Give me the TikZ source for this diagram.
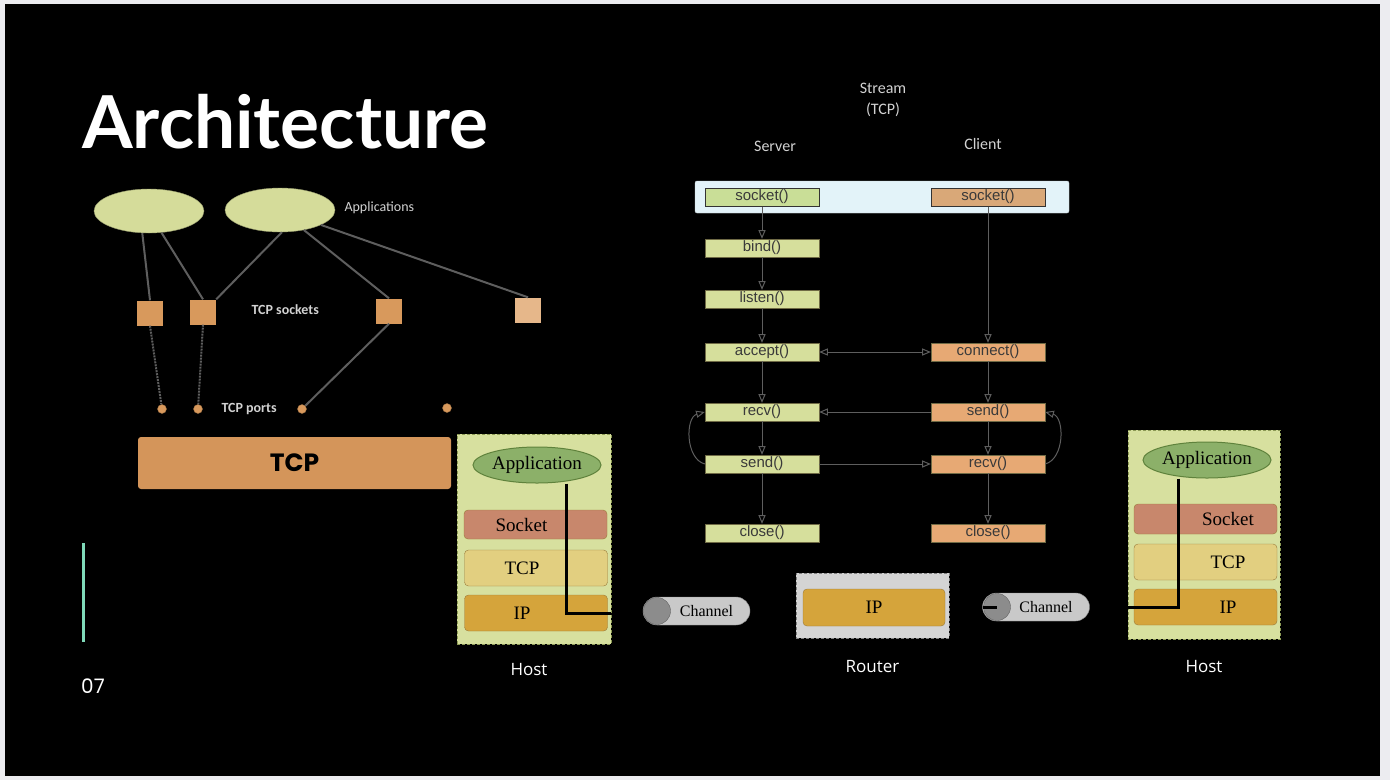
\documentclass[tikz,border=0pt]{standalone}
\usepackage{fontspec}
\setmainfont{Liberation Sans}
\newfontfamily\titlefont{Lato}
\newfontfamily\roundfont{Poppins}
\newfontfamily\labelfont{Carlito}
\newfontfamily\serifont{Liberation Serif}
\newfontfamily\capfont{Open Sans}
\usepackage{xcolor}
\usepackage{tikz}
\usetikzlibrary{arrows,shapes,positioning}

\definecolor{pagegray}{HTML}{ECECF0}
\definecolor{appfill}{HTML}{D5DC9A}
\definecolor{sockfill}{HTML}{D8995C}
\definecolor{sockpale}{HTML}{E6B78A}
\definecolor{linkgray}{HTML}{5E5E5E}
\definecolor{labelgray}{HTML}{D2D2D2}
\definecolor{tcpfill}{HTML}{D4955A}
\definecolor{srvfill}{HTML}{D6DF9C}
\definecolor{srvtop}{HTML}{C9DE97}
\definecolor{clifill}{HTML}{E7A974}
\definecolor{clitop}{HTML}{D9A878}
\definecolor{callrim}{HTML}{6F6A45}
\definecolor{calltext}{HTML}{3A3A3A}
\definecolor{barblue}{HTML}{E3F3F9}
\definecolor{hostfill}{HTML}{D7E09F}
\definecolor{hostrim}{HTML}{8C9A55}
\definecolor{greenapp}{HTML}{8CB069}
\definecolor{greenrim}{HTML}{5F823C}
\definecolor{socklayer}{HTML}{C8876C}
\definecolor{tcplayer}{HTML}{E2CF80}
\definecolor{iplayer}{HTML}{D5A43B}
\definecolor{layerrim}{HTML}{9A7A3A}
\definecolor{routerfill}{HTML}{D4D4D4}
\definecolor{chanfill}{HTML}{C9C9C9}
\definecolor{chanend}{HTML}{8C8C8C}
\definecolor{accent}{HTML}{7FD9B9}

\begin{document}
\begin{tikzpicture}[x=1pt,y=-1pt,
    app/.style={ellipse, fill=appfill, draw=appfill!70!black, minimum width=110pt, minimum height=44pt},
    tsock/.style={rectangle, fill=sockfill, minimum width=26pt, minimum height=25pt, inner sep=0pt},
    port/.style={circle, fill=sockfill, draw=sockfill!70!black, minimum size=9pt, inner sep=0pt},
    link/.style={draw=linkgray, line width=2pt},
    tag/.style={anchor=west, text=labelgray, font=\labelfont\fontsize{14}{14}\selectfont},
    call/.style={rectangle, draw=callrim, minimum width=114pt, minimum height=18pt, inner sep=0pt, text=calltext, font=\fontsize{15}{15}\selectfont},
    srv/.style={call, fill=srvfill},
    cli/.style={call, fill=clifill},
    flow/.style={draw=linkgray, line width=1pt, -open triangle 45},
    head/.style={text=labelgray, font=\labelfont\fontsize{16}{21}\selectfont, align=center},
    hostbox/.style={rectangle, fill=hostfill, draw=hostrim, densely dashed, minimum width=154pt, minimum height=210pt},
    appnode/.style={ellipse, fill=greenapp, draw=greenrim, line width=1pt, minimum width=128pt, minimum height=36pt, inner sep=0pt, font=\serifont\fontsize{19}{19}\selectfont},
    layer/.style={rectangle, rounded corners=4pt, draw=layerrim, minimum width=143pt, minimum height=36pt, inner sep=0pt, font=\serifont\fontsize{19}{19}\selectfont},
    pipe/.style={draw=black, line width=3pt},
    channel/.style={rectangle, rounded corners=14pt, fill=chanfill, draw=chanend, minimum width=107pt, minimum height=28pt, inner sep=0pt, font=\serifont\fontsize{16}{16}\selectfont},
    chanend/.style={circle, fill=chanend, draw=chanend!70!black, minimum size=27pt, inner sep=0pt},
    caption/.style={text=white, font=\capfont\fontsize{17}{17}\selectfont}]

  \fill[pagegray] (0,0) rectangle (1390,780);
  \fill[black] (5,4) rectangle (1380,776);

  \node[anchor=base west, inner sep=0pt, text=white, font=\titlefont\bfseries\fontsize{73}{73}\selectfont] (title) at (82,148) {Architecture};
  \draw[accent, line width=3pt] (83,543) -- (83,642);
  \node[anchor=west, inner sep=0pt, text=white, font=\roundfont\fontsize{20}{20}\selectfont] (page) at (81,686) {07};

  \node[app] (app1) at (149,211) {};
  \node[app] (app2) at (280,210) {};
  \node[tag] (apptag) at (341,208) {Applications};
  \node[tsock] (tsock1) at (150,313) {};
  \node[tsock] (tsock2) at (203,312) {};
  \node[tsock] (tsock3) at (389,311) {};
  \node[tsock, fill=sockpale] (tsock4) at (528,310) {};
  \node[tag, font=\labelfont\bfseries\fontsize{14}{14}\selectfont] (socktag) at (248,310) {TCP sockets};
  \node[port] (port1) at (162,409) {};
  \node[port] (port2) at (198,409) {};
  \node[port] (port3) at (302,409) {};
  \node[port] (port4) at (447,408) {};
  \node[tag, font=\labelfont\bfseries\fontsize{14}{14}\selectfont] (porttag) at (218,409) {TCP ports};
  \draw[link] (app1.-107) -- (tsock1.north);
  \draw[link] (app1.-60) -- (tsock2.north);
  \draw[link] (app2.-85) -- (tsock2.north east);
  \draw[link] (app2.-40) -- (tsock3.north);
  \draw[link] (app2.-20) -- (tsock4.north);
  \draw[link, densely dotted] (tsock1.south) -- (port1);
  \draw[link, densely dotted] (tsock2.south) -- (port2);
  \draw[link] (tsock3.south) -- (port3);
  \node[rectangle, fill=tcpfill, rounded corners=3pt, minimum width=313pt, minimum height=52pt, font=\roundfont\bfseries\fontsize{25}{25}\selectfont] (tcp) at (294.5,463) {TCP};

  \node[head] (stream) at (883,100) {Stream\\(TCP)};
  \node[head] (server) at (775,146) {Server};
  \node[head] (client) at (983,144) {Client};
  \node[rectangle, fill=barblue, draw=barblue!70!gray, rounded corners=2pt, minimum width=374pt, minimum height=32pt] (sockbar) at (882,197) {};

  \node[srv, fill=srvtop, draw=black!80, line width=1pt] (ssock) at (762,197) {socket()};
  \node[srv] (bind) at (762,248) {bind()};
  \node[srv] (listen) at (762,299) {listen()};
  \node[srv] (accept) at (762,352) {accept()};
  \node[srv] (srecv) at (762,412) {recv()};
  \node[srv] (ssend) at (762,464) {send()};
  \node[srv] (sclose) at (762,533) {close()};
  \node[cli, fill=clitop, draw=black!80, line width=1pt] (csock) at (988,197) {socket()};
  \node[cli] (connect) at (988,352) {connect()};
  \node[cli] (csend) at (988,412) {send()};
  \node[cli] (crecv) at (988,464) {recv()};
  \node[cli] (cclose) at (988,533) {close()};

  \draw[flow] (ssock) -- (bind);
  \draw[flow] (bind) -- (listen);
  \draw[flow] (listen) -- (accept);
  \draw[flow] (accept) -- (srecv);
  \draw[flow] (srecv) -- (ssend);
  \draw[flow] (ssend) -- (sclose);
  \draw[flow] (csock) -- (connect);
  \draw[flow] (connect) -- (csend);
  \draw[flow] (csend) -- (crecv);
  \draw[flow] (crecv) -- (cclose);
  \draw[flow, open triangle 45-open triangle 45] (accept) -- (connect);
  \draw[flow] (csend) -- (srecv);
  \draw[flow] (ssend) -- (crecv);
  \draw[flow] (ssend.west) to[bend left=75] (srecv.west);
  \draw[flow] (crecv.east) to[bend right=75] (csend.east);

  \node[hostbox] (hostL) at (534,539) {};
  \node[appnode] (appL) at (537,465) {Application};
  \node[layer, fill=socklayer, minimum height=29pt] (sockL) at (535.5,524.5) {Socket\hspace*{28pt}};
  \node[layer, fill=tcplayer] (tcpL) at (536,568) {TCP\hspace*{28pt}};
  \node[layer, fill=iplayer] (ipL) at (536,613) {IP\hspace*{28pt}};
  \draw[pipe] ([xshift=29pt]appL.south) |- (ipL.center -| hostL.east);
  \node[caption, below=16pt of hostL, xshift=-5pt] (hostLcap) {Host};

  \node[channel] (chanL) at (696.5,611) {\hspace*{20pt}Channel};
  \node[chanend] (chanLend) at (657,611) {};

  \node[rectangle, fill=routerfill, draw=gray, densely dashed, minimum width=153pt, minimum height=65pt] (router) at (872.5,605.5) {};
  \node[layer, fill=iplayer, minimum width=142pt, minimum height=37pt] (ipR0) at (874,607.5) {IP};
  \node[caption, below=19pt of router] (routercap) {Router};

  \node[channel] (chanR) at (1036,607) {\hspace*{20pt}Channel};
  \node[chanend] (chanRend) at (997,607) {};
  \draw[pipe] (chanRend.west) -- (chanRend.center);

  \node[hostbox, minimum width=152pt, minimum height=209pt] (hostR) at (1204,534.5) {};
  \node[appnode] (appR) at (1207,460) {Application};
  \node[layer, fill=socklayer, minimum height=30pt] (sockR) at (1205.5,519) {\hspace*{45pt}Socket};
  \node[layer, fill=tcplayer] (tcpR) at (1205.5,562) {\hspace*{45pt}TCP};
  \node[layer, fill=iplayer] (ipR) at (1205.5,607) {\hspace*{45pt}IP};
  \draw[pipe] ([xshift=-29pt]appR.south) |- (ipR.center -| hostR.west);
  \node[caption, below=18pt of hostR] (hostRcap) {Host};
\end{tikzpicture}
\end{document}
